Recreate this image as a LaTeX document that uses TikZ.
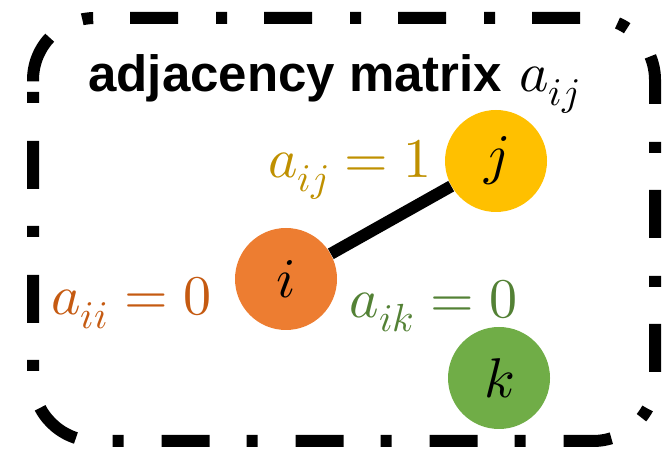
\documentclass[tikz,border=0pt]{standalone}
\usepackage{fontspec}
\usepackage{unicode-math}
\setsansfont{Liberation Sans}
\usepackage{tikz}
\usetikzlibrary{positioning}
\definecolor{jyellow}{HTML}{FFC000}
\definecolor{iorange}{HTML}{ED7D31}
\definecolor{kgreen}{HTML}{70AD47}
\definecolor{ijgold}{HTML}{BF9000}
\definecolor{iibrown}{HTML}{C55A11}
\definecolor{ikgreen}{HTML}{538135}

\begin{document}
\begin{tikzpicture}[
  x=0.5pt, y=0.5pt,
  every node/.style={font=\fontsize{28}{32}\selectfont},
  frame/.style={line width=6pt, rounded corners=31pt, dash pattern=on 5.5pt off 19pt on 24pt off 18.5pt},
  vertex/.style={circle, minimum size=51pt, inner sep=0pt},
  edgeline/.style={line width=6pt},
  lbl/.style={anchor=base east, inner sep=0pt}
]
  \useasboundingbox (0,0) rectangle (667,453);

  % Rahmen
  \draw[frame] (33,361) -- (33,12) -- (655,12) -- (655,435) -- (33,435) -- (33,361);

  % Titel
  \node[anchor=base west, inner sep=0pt] (title) at (88,361) {{\fontsize{25.5}{30}\selectfont\sffamily\bfseries adjacency matrix} $a_{ij}$};

  % Knoten
  \node[vertex, fill=iorange] (i) at (286,174) {$i$};
  \node[vertex, fill=jyellow] (j) at (496,292) {$j$};
  \node[vertex, fill=kgreen] (k) at (499,75) {$k$};

  \draw[edgeline] (i) -- (j);

  % Eintraege
  \node[lbl, text=ijgold] (aij) at (432,275) {$a_{ij} = 1$};
  \node[lbl, text=iibrown] (aii) at (212,138) {$a_{ii} = 0$};
  \node[lbl, text=ikgreen] (aik) at (518,135) {$a_{ik} = 0$};

\end{tikzpicture}
\end{document}
